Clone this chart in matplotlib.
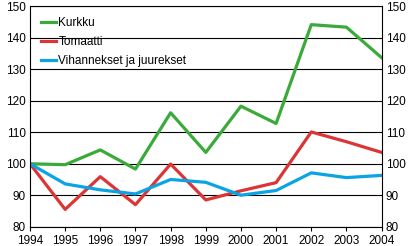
import matplotlib
matplotlib.use('Agg')
import matplotlib.pyplot as plt

# Hintaindeksit, 1994 = 100
years = [1994, 1995, 1996, 1997, 1998, 1999, 2000, 2001, 2002, 2003, 2004]
kurkku = [100, 99.7, 104.4, 98.3, 116.2, 103.6, 118.3, 112.8, 144.2, 143.4, 133.7]
tomaatti = [100, 85.5, 95.9, 87.0, 99.9, 88.5, 91.4, 94.0, 110.1, 107.0, 103.6]
vihannekset = [100, 93.6, 91.7, 90.4, 95.0, 94.1, 90.0, 91.5, 97.1, 95.6, 96.3]

plt.rcParams['font.family'] = ['Liberation Sans', 'DejaVu Sans']

fig = plt.figure(figsize=(4.09, 2.46), dpi=100)
ax = fig.add_axes([0.0733, 0.0785, 0.8597, 0.8955])

ax.plot(years, kurkku, color='#3aaa3a', lw=2.3, label='Kurkku')
ax.plot(years, tomaatti, color='#dc3535', lw=2.3, label='Tomaatti')
ax.plot(years, vihannekset, color='#0aa3e3', lw=2.3, label='Vihannekset ja juurekset')

ax.set_xlim(1994, 2004)
ax.set_ylim(80, 150)
ax.set_xticks(years)
ax.set_yticks(range(80, 151, 10))
ax.yaxis.grid(True, color='black', lw=0.8)
ax.set_axisbelow(True)

ax.tick_params(axis='y', length=0, labelsize=8.5, labelright=True, pad=3)
ax.tick_params(axis='x', length=3, width=0.8, labelsize=8.5, pad=3)
for s in ax.spines.values():
    s.set_linewidth(0.8)

ax.legend(loc='upper left', frameon=False, fontsize=8.5, handlelength=1.3,
          handletextpad=0.2, labelspacing=0.6, borderaxespad=0.5,
          bbox_to_anchor=(0.0, 1.0))

fig.savefig('out.png', dpi=100)
